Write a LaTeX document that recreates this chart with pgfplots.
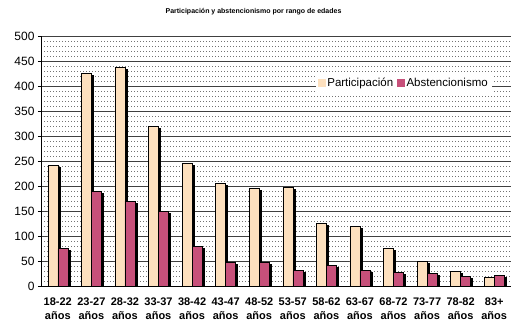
\documentclass[border=0pt]{standalone}
\usepackage{pgfplots}
\pgfplotsset{compat=1.18}
\usepackage{fontspec}
\setmainfont{Liberation Sans}
\usetikzlibrary{shadows}

\definecolor{partcol}{RGB}{253,224,190}
\definecolor{abscol}{RGB}{199,80,122}
\definecolor{gridmaj}{RGB}{64,64,64}

\pgfplotstableread{
idx part abs
0  241 75
1  426 190
2  437 170
3  319 150
4  245 80
5  205 47
6  195 47
7  197 31
8  125 41
9  120 32
10 76  27
11 50  26
12 29  19
13 18  21
}\edades

\begin{document}
\begin{tikzpicture}
\useasboundingbox (-41bp,-38bp) rectangle (470bp,286bp);
\node[font=\bfseries\fontsize{7bp}{8bp}\selectfont] at (212.5bp,274bp)
  {Participación y abstencionismo por rango de edades};
\begin{axis}[
  scale only axis,
  width=470bp, height=250bp,
  xmin=-0.5, xmax=13.5,
  ymin=0, ymax=500,
  axis x line*=bottom,
  axis y line*=left,
  axis line style={black, line width=0.8bp},
  ytick={0,50,...,500},
  minor y tick num=4,
  xtick=data,
  xticklabels={{18-22\\años},{23-27\\años},{28-32\\años},{33-37\\años},{38-42\\años},{43-47\\años},{48-52\\años},{53-57\\años},{58-62\\años},{63-67\\años},{68-72\\años},{73-77\\años},{78-82\\años},{83+\\años}},
  xticklabel style={align=center, font=\bfseries\fontsize{11bp}{14.5bp}\selectfont},
  x tick label style={yshift=-5bp},
  yticklabel style={font=\fontsize{12bp}{14bp}\selectfont},
  /pgf/number format/assume math mode=true,
  major x tick style={draw=none},
  major y tick style={black, line width=0.8bp},
  minor tick length=0pt,
  major tick length=3bp,
  tick align=outside,
  ymajorgrids, yminorgrids,
  major grid style={gridmaj, line width=0.9bp},
  minor grid style={gray!90!black, line width=0.8bp, dash pattern=on 0.8bp off 2.2bp},
  ybar, bar width=10bp,
  legend style={at={(0.772,0.812)}, anchor=center, draw=none, fill=white,
    font=\fontsize{11.5bp}{13bp}\selectfont, legend columns=2,
    /tikz/every even column/.append style={column sep=2bp},
    inner sep=2bp},
]
% bars with a solid offset shadow
\addplot[bar shift=-5bp, fill=partcol, draw=black, line width=0.5bp, forget plot,
  drop shadow={shadow xshift=2bp, shadow yshift=-2bp, fill=black, opacity=1}]
  table[x=idx, y=part] {\edades};
\addplot[bar shift=5bp, fill=abscol, draw=black, line width=0.5bp, forget plot,
  drop shadow={shadow xshift=2bp, shadow yshift=-2bp, fill=black, opacity=1}]
  table[x=idx, y=abs] {\edades};
% flat legend swatches
\addlegendimage{legend image code/.code={\fill[partcol] (0bp,-3.5bp) rectangle (7bp,3.5bp);}}
\addlegendentry{Participación}
\addlegendimage{legend image code/.code={\fill[abscol] (0bp,-3.5bp) rectangle (7bp,3.5bp);}}
\addlegendentry{Abstencionismo}
\end{axis}
\end{tikzpicture}
\end{document}
